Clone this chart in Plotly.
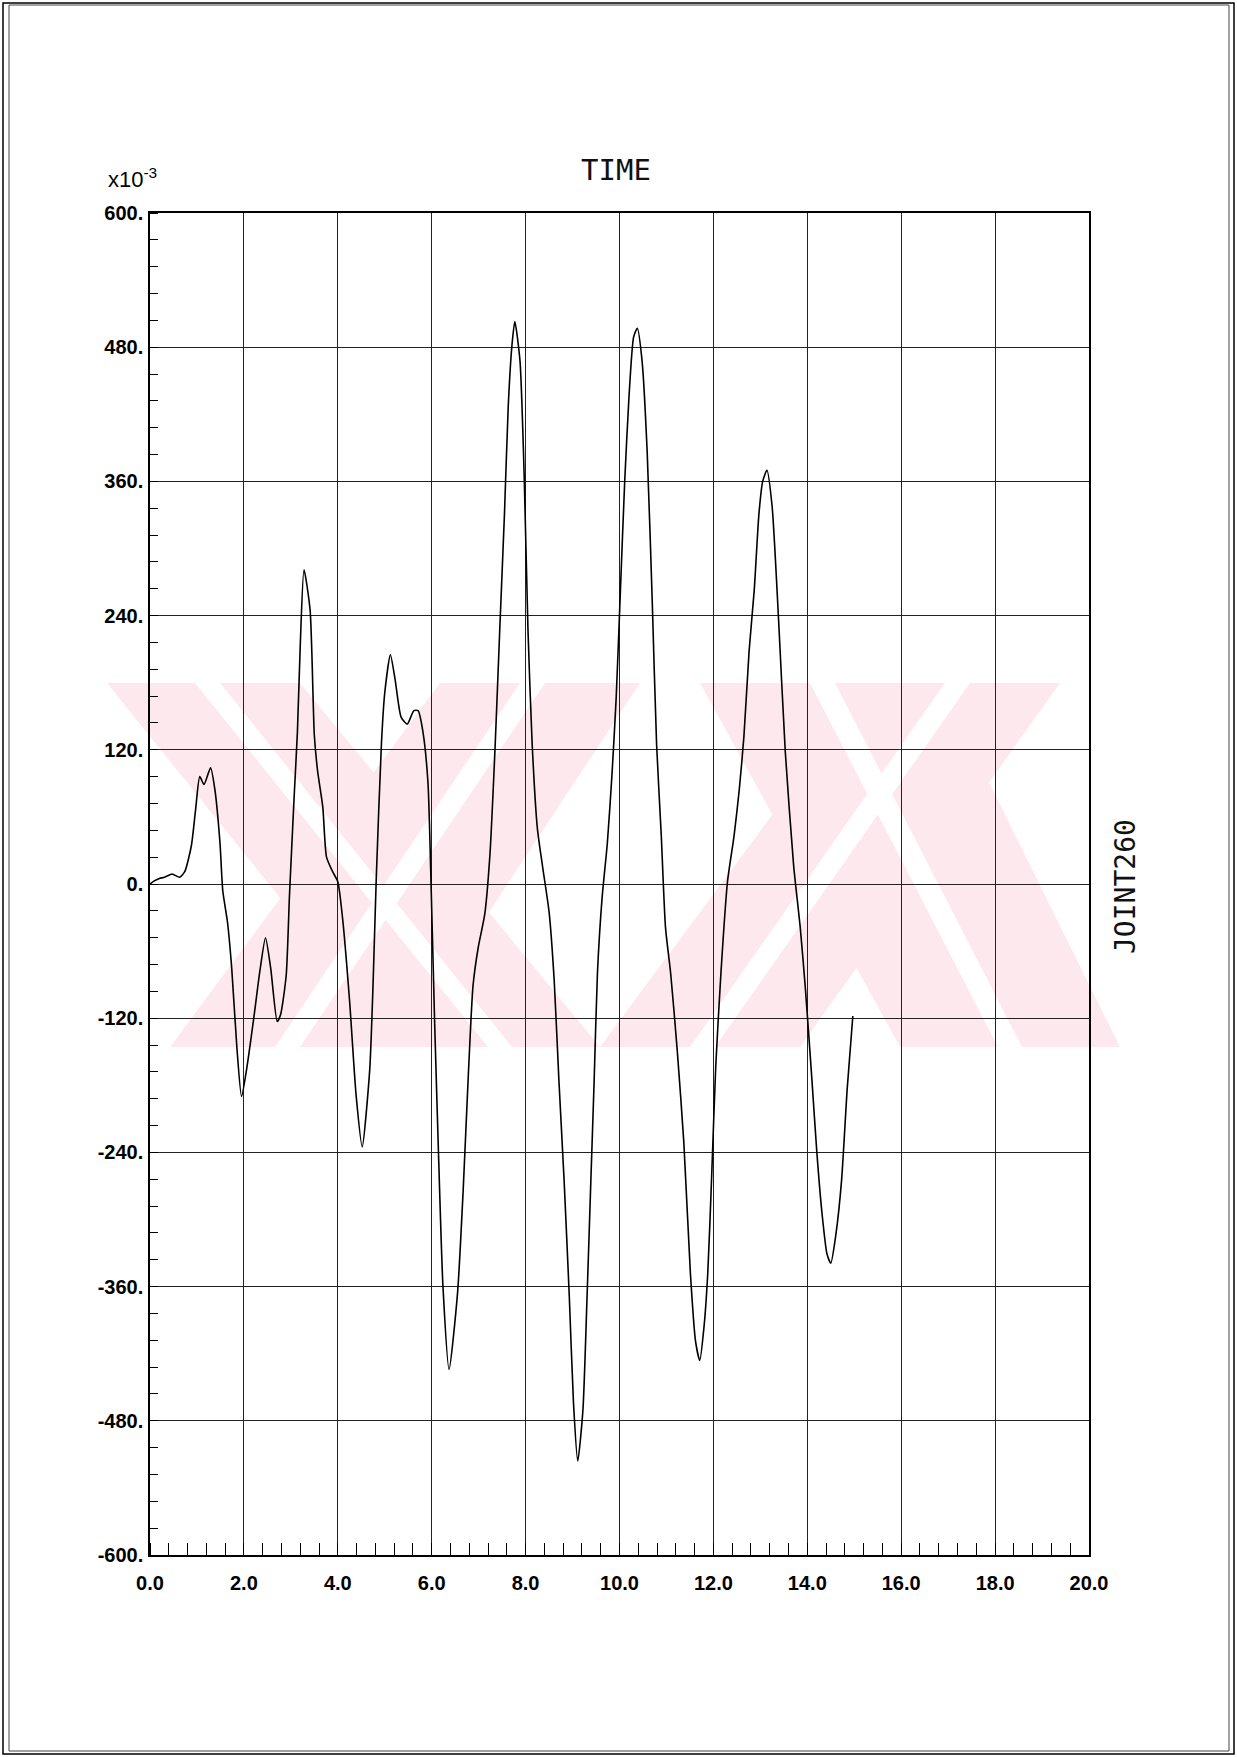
import plotly.graph_objects as go

# ---------------- data (values in x10^-3) ----------------
time = [0.0, 0.1, 0.2, 0.31, 0.47, 0.63, 0.74, 0.88, 0.97, 1.06, 1.15, 1.29, 1.38, 1.49, 1.55,
        1.65, 1.74, 1.85, 1.95, 2.06, 2.21, 2.34, 2.46, 2.57, 2.71, 2.78, 2.9, 2.97, 3.07,
        3.14, 3.2, 3.28, 3.41, 3.5, 3.57, 3.68, 3.76, 3.89, 4.0, 4.1, 4.25, 4.39, 4.52,
        4.68, 4.75, 4.82, 4.93, 5.0, 5.12, 5.22, 5.35, 5.48, 5.62, 5.71, 5.81, 5.92, 5.99,
        6.06, 6.14, 6.24, 6.37, 6.55, 6.67, 6.78, 6.88, 6.99, 7.13, 7.24, 7.35, 7.45, 7.55,
        7.63, 7.71, 7.77, 7.88, 7.97, 8.05, 8.14, 8.25, 8.36, 8.5, 8.61, 8.71, 8.82, 8.93,
        9.02, 9.11, 9.22, 9.31, 9.39, 9.46, 9.53, 9.63, 9.74, 9.84, 9.93, 10.02, 10.11,
        10.2, 10.3, 10.38, 10.48, 10.59, 10.7, 10.79, 10.89, 10.98, 11.09, 11.23, 11.37,
        11.51, 11.62, 11.71, 11.8, 11.88, 11.96, 12.05, 12.16, 12.3, 12.44, 12.55, 12.65,
        12.76, 12.87, 12.97, 13.05, 13.14, 13.25, 13.39, 13.53, 13.71, 13.85, 13.96, 14.1,
        14.2, 14.31, 14.42, 14.5, 14.61, 14.73, 14.85, 14.97]
joint260 = [0, 3, 5, 6, 9, 6, 11, 34, 66, 96, 89, 104, 85, 37, -6,
            -34, -75, -146, -190, -165, -120, -78, -48, -75, -123, -117, -82, -11, 78,
            136, 213, 281, 245, 133, 101, 69, 24, 11, 2, -30, -104, -189, -235,
            -166, -91, 6, 126, 171, 205, 183, 149, 143, 155, 155, 137, 91, -6,
            -120, -234, -360, -434, -366, -274, -171, -91, -57, -27, 26, 122, 228, 331,
            427, 482, 503, 468, 365, 228, 125, 50, 16, -25, -87, -176, -265, -368,
            -464, -516, -471, -368, -265, -176, -80, -12, 36, 98, 167, 263, 359,
            434, 489, 497, 468, 386, 249, 125, 43, -39, -80, -149, -231,
            -348, -409, -426, -396, -348, -265, -163, -80, 2, 43, 84, 132,
            208, 263, 331, 360, 370, 338, 235, 119, 16, -39, -94, -176,
            -238, -293, -331, -339, -313, -265, -183, -118]

x_tickvals = [0, 2, 4, 6, 8, 10, 12, 14, 16, 18, 20]
x_ticktext = ["0.0", "2.0", "4.0", "6.0", "8.0", "10.0", "12.0", "14.0", "16.0", "18.0", "20.0"]
y_tickvals = [600, 480, 360, 240, 120, 0, -120, -240, -360, -480, -600]
y_ticktext = ["600.", "480.", "360.", "240.", "120.", "0.", "-120.", "-240.", "-360.", "-480.", "-600."]

# ---------------- layout geometry (pixels) ----------------
W, H = 1237, 1757
L, R, T, B = 150, 148, 213, 202
PW, PH = W - L - R, H - T - B


def px(x):
    return (x - L) / PW


def py(y):
    return (H - B - y) / PH


def poly(pts):
    return "M " + " L ".join(f"{px(x):.5f},{py(y):.5f}" for x, y in pts) + " Z"


fig = go.Figure()
fig.add_trace(go.Scatter(x=time, y=joint260, mode="lines",
                         line=dict(color="black", width=1.6, shape="spline", smoothing=0.6),
                         hoverinfo="skip", showlegend=False))

shapes = []
# faint watermark bands (background decoration)
wm = "#fde8ed"
Y0, Y1 = 683, 1047
bands = [
    [(107, Y0), (300, Y0), (600, Y1), (400, Y1)],
    [(170, Y1), (400, Y1), (640, Y0), (440, Y0)],
    [(700, Y0), (940, Y0), (1120, Y1), (900, Y1)],
    [(600, Y1), (800, Y1), (1060, Y0), (870, Y0)],
]
for b in bands:
    shapes.append(dict(type="path", path=poly(b), xref="paper", yref="paper",
                       fillcolor=wm, line=dict(width=0), layer="below"))
# white stripes splitting each band into a double band
stripes = [
    [(195, Y0), (220, Y0), (512, Y1), (488, Y1)],
    [(275, Y1), (300, Y1), (545, Y0), (520, Y0)],
    [(810, Y0), (835, Y0), (1022, Y1), (998, Y1)],
    [(690, Y1), (715, Y1), (970, Y0), (945, Y0)],
]
for s in stripes:
    shapes.append(dict(type="path", path=poly(s), xref="paper", yref="paper",
                       fillcolor="white", line=dict(width=0), layer="below"))
# page border (double line)
shapes.append(dict(type="rect", xref="paper", yref="paper",
                   x0=px(3), x1=px(1234), y0=py(1754), y1=py(3),
                   line=dict(color="black", width=1.5), layer="above"))
shapes.append(dict(type="rect", xref="paper", yref="paper",
                   x0=px(9), x1=px(1229), y0=py(1751), y1=py(5),
                   line=dict(color="#444", width=1), layer="above"))

fig.update_layout(
    width=W, height=H,
    margin=dict(l=L, r=R, t=T, b=B),
    paper_bgcolor="white", plot_bgcolor="rgba(0,0,0,0)",
    shapes=shapes,
    showlegend=False,
    annotations=[
        dict(text="TIME", xref="paper", yref="paper", x=px(616), y=py(170),
             xanchor="center", yanchor="middle", showarrow=False,
             font=dict(family="DejaVu Sans Mono", size=29, color="#111")),
        dict(text="JOINT260", xref="paper", yref="paper", x=px(1125), y=py(887),
             xanchor="center", yanchor="middle", showarrow=False, textangle=-90,
             font=dict(family="DejaVu Sans Mono", size=28, color="#111")),
        dict(text="x10<sup>-3</sup>", xref="paper", yref="paper", x=px(106), y=py(178),
             xanchor="left", yanchor="middle", showarrow=False,
             font=dict(family="Liberation Sans", size=22, color="black")),
    ],
    xaxis=dict(range=[0, 20], tickmode="array", tickvals=x_tickvals, ticktext=x_ticktext,
               showgrid=True, gridcolor="#222", gridwidth=1, zeroline=False,
               showline=True, linecolor="black", linewidth=1.5, mirror=True,
               ticks="", ticklabelstandoff=9,
               tickfont=dict(family="Liberation Sans", size=20, color="black", weight="bold"),
               minor=dict(tickmode="linear", tick0=0, dtick=0.4, ticks="inside", ticklen=12,
                          tickcolor="black", tickwidth=1, showgrid=False)),
    yaxis=dict(range=[-600, 600], tickmode="array", tickvals=y_tickvals, ticktext=y_ticktext,
               showgrid=True, gridcolor="#222", gridwidth=1, zeroline=False,
               showline=True, linecolor="black", linewidth=1.5, mirror=True,
               ticks="", ticklabelstandoff=1,
               tickfont=dict(family="Liberation Sans", size=20, color="black", weight="bold"),
               minor=dict(tickmode="linear", tick0=0, dtick=24, ticks="inside", ticklen=8,
                          tickcolor="black", tickwidth=1, showgrid=False)),
)

fig.write_html("out.html", config={"displayModeBar": False},
               post_script="document.body.style.margin='0px';document.body.style.overflow='hidden';")
